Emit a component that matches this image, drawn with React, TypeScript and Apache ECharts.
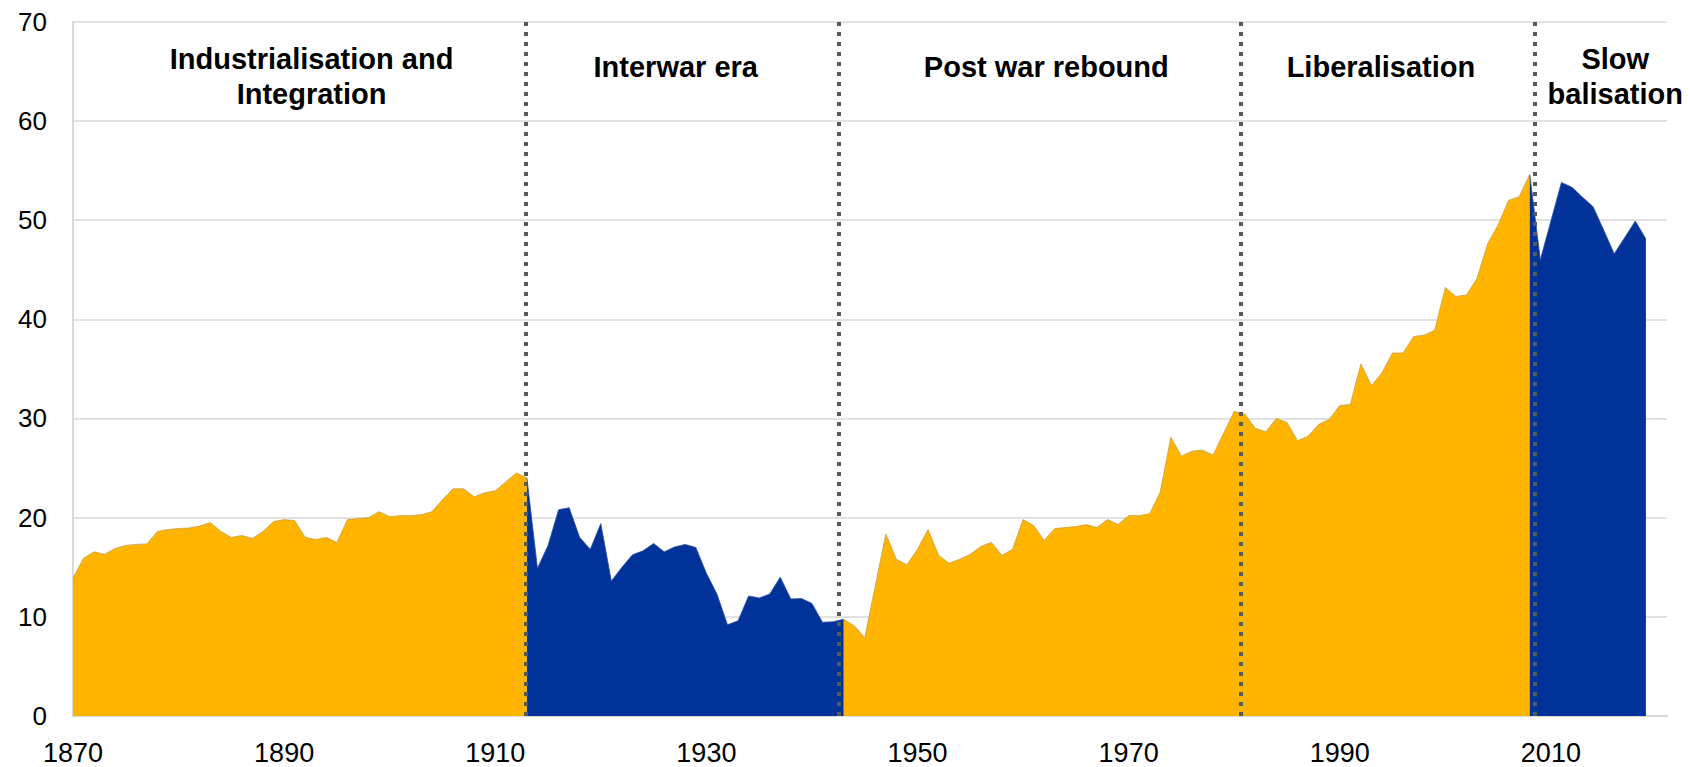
import React, { useEffect, useRef } from "react";
import * as echarts from "echarts";

const years: number[] = [];
for (let y = 1870; y <= 2019; y++) years.push(y);

const values: number[] = [
  13.9, 15.9, 16.55, 16.3, 16.9, 17.2, 17.3, 17.35, 18.6, 18.8,
  18.9, 18.95, 19.15, 19.5, 18.6, 18.0, 18.2, 17.9, 18.6, 19.6,
  19.8, 19.7, 18.0, 17.8, 18.0, 17.5, 19.8, 19.9, 20.0, 20.6,
  20.1, 20.2, 20.2, 20.3, 20.6, 21.8, 22.9, 22.9, 22.1, 22.5,
  22.7, 23.6, 24.5, 24.0, 14.9, 17.2, 20.8, 21.0, 18.0, 16.8,
  19.4, 13.6, 15.0, 16.25, 16.65, 17.4, 16.55, 17.05, 17.3, 17.0,
  14.4, 12.3, 9.2, 9.6, 12.1, 11.9, 12.3, 14.0, 11.8, 11.85,
  11.35, 9.45, 9.5, 9.75, 9.1, 7.9, 13.1, 18.35, 15.8, 15.25,
  16.8, 18.8, 16.2, 15.4, 15.8, 16.3, 17.1, 17.5, 16.2, 16.8,
  19.8, 19.2, 17.7, 18.9, 19.0, 19.1, 19.3, 19.0, 19.8, 19.3,
  20.2, 20.2, 20.4, 22.6, 28.1, 26.2, 26.7, 26.8, 26.3, 28.5,
  30.7, 30.45, 29.0, 28.65, 30.0, 29.6, 27.75, 28.2, 29.4, 29.9,
  31.3, 31.4, 35.5, 33.3, 34.6, 36.6, 36.6, 38.25, 38.4, 38.9,
  43.2, 42.3, 42.45, 44.1, 47.6, 49.5, 52.0, 52.35, 54.6, 46.0,
  49.9, 53.8, 53.3, 52.3, 51.35, 49.0, 46.6, 48.25, 49.9, 48.1,
];

// Era boundaries (first/last year of each phase; shared endpoints)
const eraBreaks: number[] = [1913, 1943, 2008];
const dividerYears: number[] = [1912.9, 1942.5, 1980.6, 2008.45];
const eraLabels: string[] = [
  "Industrialisation and\nIntegration",
  "Interwar era",
  "Post war rebound",
  "Liberalisation",
  "Slow\nbalisation",
];
const eraLabelYears: number[] = [1892.6, 1927.1, 1962.2, 1993.9, 2016.1];
const xTicks = { min: 1870, max: 2021, interval: 20 };
const yTicks = { min: 0, max: 70, interval: 10 };

const ORANGE = "#FFB400";
const BLUE = "#003299";

function isOrange(y: number) {
  return y <= eraBreaks[0] || (y >= eraBreaks[1] && y <= eraBreaks[2]);
}
function isBlue(y: number) {
  return (y >= eraBreaks[0] && y <= eraBreaks[1]) || y >= eraBreaks[2];
}

export default function App() {
  const ref = useRef<HTMLDivElement>(null);
  useEffect(() => {
    if (!ref.current) return;
    const chart = echarts.init(ref.current, null, { renderer: "svg" });
    const orangeData = years.map((y, i) => [y, isOrange(y) ? values[i] : null]);
    const blueData = years.map((y, i) => [y, isBlue(y) ? values[i] : null]);
    const gridLeft = 73;
    const gridRight = 23;
    const gridTop = 21.7;
    const gridBottom = 51;
    const plotW = 1690 - gridLeft - gridRight;
    const toX = (yr: number) =>
      gridLeft + ((yr - xTicks.min) / (xTicks.max - xTicks.min)) * plotW;

    chart.setOption({
      animation: false,
      grid: { left: gridLeft, right: gridRight, top: gridTop, bottom: gridBottom, containLabel: false },
      xAxis: {
        type: "value",
        min: xTicks.min,
        max: xTicks.max,
        interval: xTicks.interval,
        axisLine: { show: true, lineStyle: { color: "#D9D9D9", width: 2 } },
        axisTick: { show: false },
        splitLine: { show: false },
        axisLabel: {
          color: "#000",
          fontSize: 27,
          fontFamily: "Liberation Sans, Arial, sans-serif",
          margin: 23,
          formatter: (v: number) => (v > 2010 ? "" : String(v)),
        },
      },
      yAxis: {
        type: "value",
        min: yTicks.min,
        max: yTicks.max,
        interval: yTicks.interval,
        axisLine: { show: true, lineStyle: { color: "#D9D9D9", width: 2 } },
        axisTick: { show: false },
        splitLine: { show: true, lineStyle: { color: "#D9D9D9", width: 1.5 } },
        axisLabel: {
          color: "#000",
          fontSize: 26,
          fontFamily: "Liberation Sans, Arial, sans-serif",
          margin: 26,
        },
      },
      series: [
        {
          type: "line",
          data: orangeData,
          showSymbol: false,
          connectNulls: false,
          lineStyle: { width: 0.8, color: "#C9A040" },
          areaStyle: { color: ORANGE, opacity: 1 },
          itemStyle: { color: ORANGE },
          z: 2,
        },
        {
          type: "line",
          data: blueData,
          showSymbol: false,
          connectNulls: false,
          lineStyle: { width: 0.8, color: "#3050A0" },
          areaStyle: { color: BLUE, opacity: 1 },
          itemStyle: { color: BLUE },
          z: 3,
        },
        {
          type: "line",
          data: [],
          z: 5,
          markLine: {
            silent: true,
            symbol: ["none", "none"],
            label: { show: false },
            lineStyle: { color: "#595959", width: 4, type: [4, 6] },
            data: dividerYears.map((x) => ({ xAxis: x })),
          },
        },
      ],
      graphic: eraLabels.map((t, i) => ({
        type: "text",
        x: toX(eraLabelYears[i]),
        y: t.includes("\n") ? 76 : 67,
        z: 10,
        style: {
          text: t,
          fontSize: 29,
          fontWeight: "bold",
          fontFamily: "Liberation Sans, Arial, sans-serif",
          fill: "#000",
          align: "center",
          verticalAlign: "middle",
          lineHeight: 35,
        },
      })),
    });
    return () => chart.dispose();
  }, []);
  return (
    <div
      ref={ref}
      style={{ position: "fixed", left: 0, top: 0, width: 1690, height: 767, background: "#fff" }}
    />
  );
}
